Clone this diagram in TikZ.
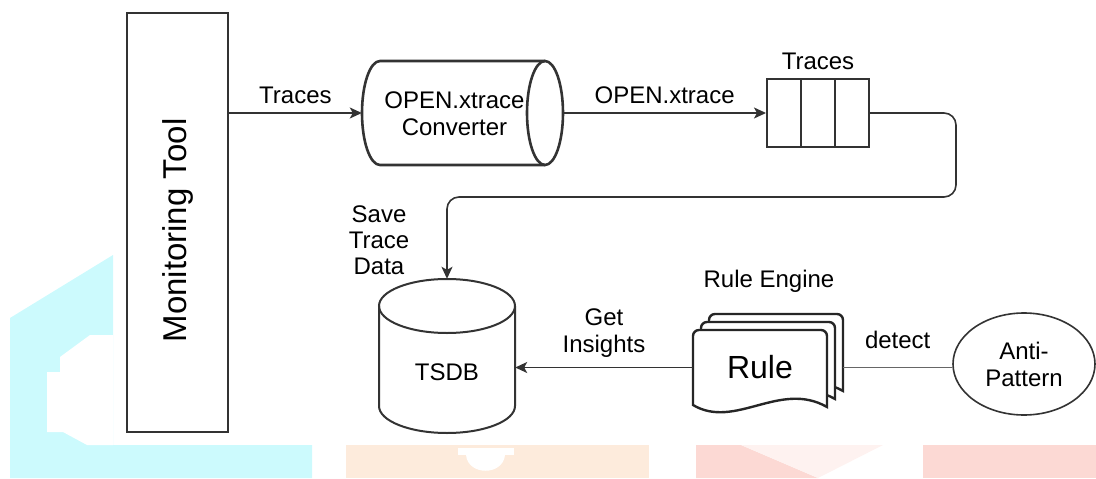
\documentclass[tikz,border=0pt]{standalone}
\usepackage{fontspec}
\setmainfont{Liberation Sans}
\usetikzlibrary{arrows.meta, positioning, calc, shapes.geometric}
\definecolor{wmcyan}{HTML}{CCFAFD}
\definecolor{wmpeach}{HTML}{FDEBDC}
\definecolor{wmred}{HTML}{FCD9D4}
\definecolor{linegray}{HTML}{333333}
\tikzset{
  txt/.style={font=\fontsize{24}{27}\selectfont, align=center, inner sep=0pt},
  flow/.style={line width=1.6pt, draw=linegray, -{Stealth[length=12pt,width=11pt,inset=3pt]}},
  box/.style={draw=linegray, line width=2pt},
  docline/.style={draw=black!85, line width=2.4pt, fill=white},
}

\begin{document}
\begin{tikzpicture}[x=1pt, y=-1pt]
\useasboundingbox (0,0) rectangle (1096,479);
% watermark in the back
\fill[wmcyan] (10,318) -- (113,255) -- (113,445) -- (312,445) -- (312,478) -- (10,478) -- cycle;
\fill[white] (60,357) -- (90,335) -- (113,335) -- (113,445) -- (87,445) -- (63,432) -- (47,432) -- (47,372) -- (60,372) -- cycle;
\fill[wmpeach] (346,445) rectangle (649,478);
\fill[white] (458,448) rectangle (514,455);
\fill[white] (466,455) -- (505,455) .. controls (503,476) and (468,476) .. (466,455) -- cycle;
\fill[wmred] (696,445) -- (741,445) -- (818,478) -- (696,478) -- cycle;
\fill[wmred!35] (741,445) -- (883,445) -- (818,478) -- cycle;
\fill[wmred] (923,445) rectangle (1096,478);

% nodes
\node[box, minimum width=101pt, minimum height=419pt] (monitor) at (177.5,222.5)
  {\rotatebox{90}{\fontsize{33}{40}\selectfont\hspace*{-16pt}Monitoring Tool}};

% converter (horizontal cylinder)
\node[minimum width=201pt, minimum height=104pt, inner sep=0pt] (conv) at (462.5,113) {};
\draw[box, line width=2.6pt] (545,61) -- (380,61) arc[start angle=270, end angle=90, x radius=18, y radius=52] -- (545,165);
\draw[box, line width=2.6pt] (545,113) ellipse [x radius=18, y radius=52];
\node[txt] (convtxt) at ([xshift=-8pt, yshift=-1pt]conv.center) {OPEN.xtrace\\Converter};

\node[box, minimum width=102pt, minimum height=68pt] (queue) at (818,113) {};
\foreach \i in {1,2}
  \draw[box] ($(queue.north west)!\i/3!(queue.north east)$) -- ($(queue.south west)!\i/3!(queue.south east)$);
\node[txt, above=8pt of queue] (qlabel) {Traces};

% time series db (vertical cylinder)
\node[minimum width=136pt, minimum height=154pt, inner sep=0pt] (tsdb) at (447,356) {};
\draw[box] (379,306) -- (379,406) arc[start angle=180, end angle=0, x radius=68, y radius=27] -- (515,306);
\draw[box] (447,306) ellipse [x radius=68, y radius=27];
\node[txt] (tsdbtxt) at (447,372) {TSDB};

% rule engine: three stacked documents
\foreach \d in {16,8,0}
  \draw[docline, shift={(\d,-\d)}] (693,405) [rounded corners=6pt] -- (693,330) -- (827,330) [sharp corners] -- (827,407)
    .. controls (780,380) and (735,430) .. (693,405) -- cycle;
\node[minimum width=134pt, minimum height=76pt, inner sep=0pt, font=\fontsize{32}{36}\selectfont] (rule) at (760,367.5) {Rule};
\coordinate (ruleback) at ([xshift=16pt]rule.east);
\node[txt, anchor=base] (enginelbl) at (769,287) {Rule Engine};
\node[ellipse, draw=linegray, line width=1.6pt, minimum width=142pt, minimum height=102pt, txt]
  (anti) at (1024,364) {Anti-\\Pattern};

% connectors
\draw[flow] (monitor.east |- conv.west) -- node[txt, above=8pt] {Traces} (conv.west);
\draw[flow] (conv.east) -- node[txt, above=8pt] {OPEN.xtrace} (queue.west);
\draw[flow, rounded corners=12pt] (queue.east) -| ++(86,84) -| (tsdb.north);
\node[txt, font=\fontsize{24}{26}\selectfont] (savelbl) at (379,240) {Save\\Trace\\Data};
\draw[flow] (rule.west) -- node[txt, above=9pt] {Get\\Insights} (rule.west -| tsdb.east);
\draw[line width=1.6pt, draw=black!60] (ruleback) -- node[txt, above=18pt] {detect} (anti.west |- ruleback);
\end{tikzpicture}
\end{document}
